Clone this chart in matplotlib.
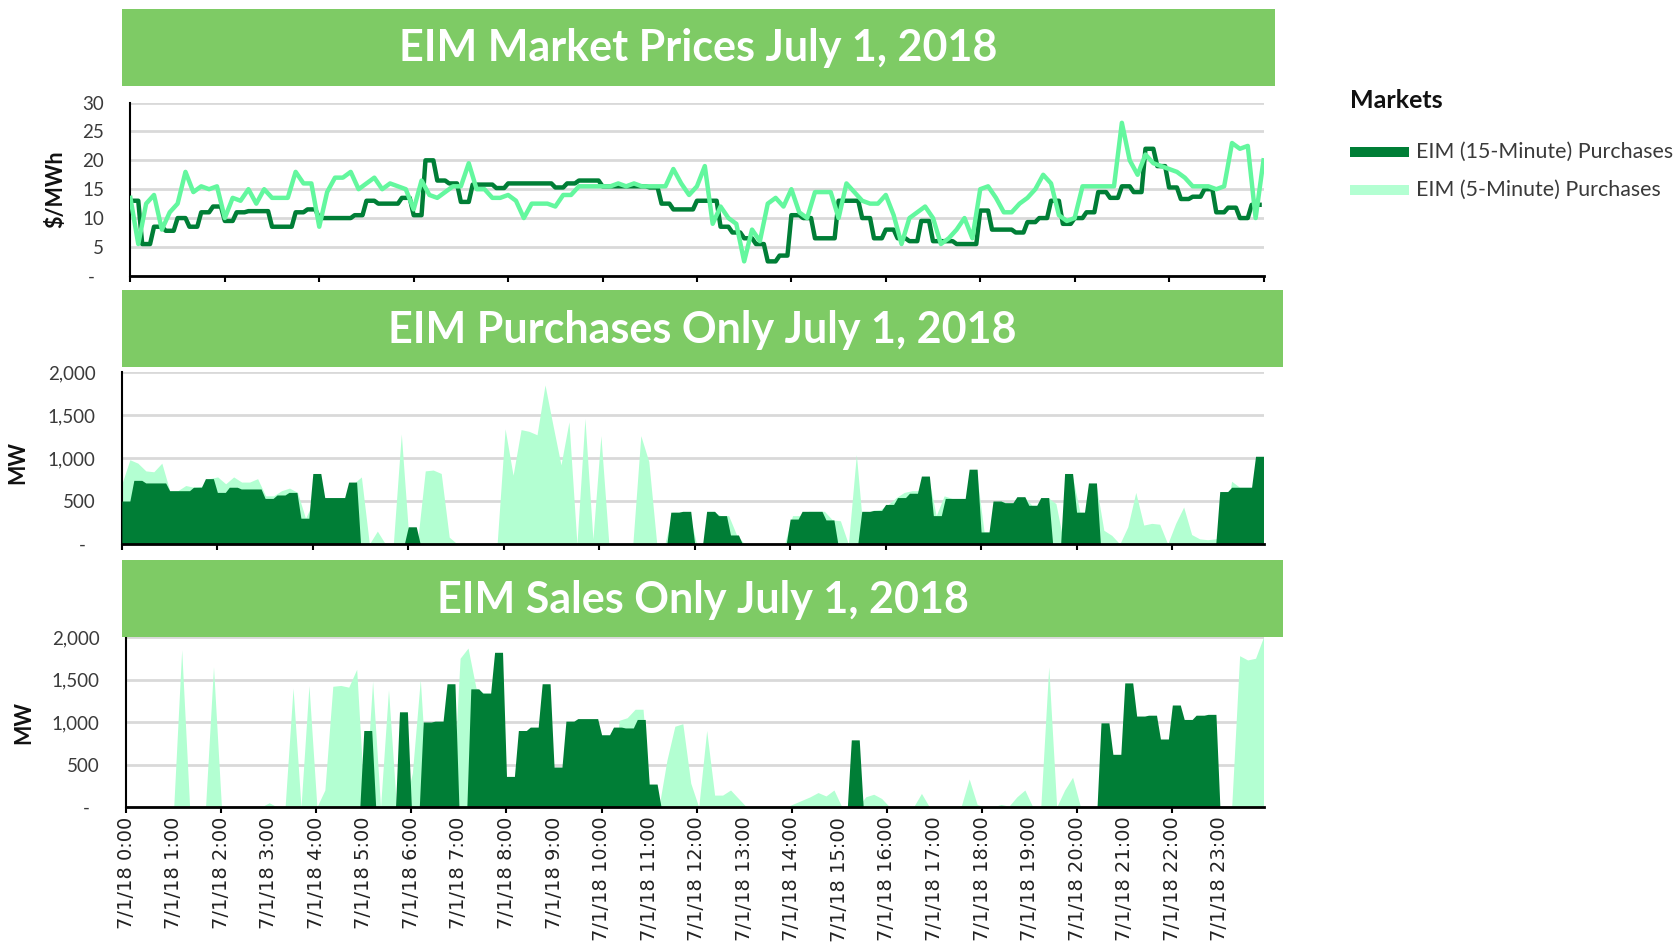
import numpy as np
import matplotlib

matplotlib.use("Agg")
import matplotlib.pyplot as plt
from matplotlib.patches import Rectangle
from matplotlib.lines import Line2D

# ---- data ----
# EIM prices, $/MWh: 15-minute market (one value per 15 min)
price_15min = [
    13, 5.5, 8.5, 7.8, 10, 8.5, 11, 12, 9.5, 11, 11.2, 11.2,
    8.5, 8.5, 11, 11.5, 10, 10, 10, 10.5, 13, 12.5, 12.5, 13.5,
    10.5, 20, 16.5, 16, 12.8, 15.8, 15.8, 15.2, 16, 16, 16, 16,
    15.3, 16, 16.5, 16.5, 15.5, 15.5, 15.5, 15.5, 15.3, 12.5, 11.5, 11.5,
    13, 13, 8.5, 7.5, 6.5, 5.5, 2.5, 3.5, 10.5, 10, 6.5, 6.5,
    13, 13, 10, 6.5, 8, 6.5, 6, 9.5, 6, 6, 5.5, 5.5,
    11.3, 8, 8, 7.5, 9.3, 10, 13, 9, 10, 11, 14.5, 13.5,
    15.5, 14.5, 22, 19, 15.3, 13.3, 13.7, 15, 11, 11.8, 10, 12.3,
]
# 5-minute market, sampled every 10 min (0:00 .. 24:00)
price_5min = [
    13.5, 5.5, 12.5, 14, 8, 11, 12.5, 18, 14.5, 15.5, 15, 15.5,
    10, 13.5, 13, 15, 12.5, 15, 13.5, 13.5, 13.5, 18, 16, 16,
    8.5, 14.5, 17, 17, 18, 15, 16, 17, 15, 16, 15.5, 15,
    11.5, 16.5, 14, 13.5, 14.5, 15.5, 15.5, 19.5, 15, 15, 13.5, 13.5,
    14, 13, 10, 12.5, 12.5, 12.5, 12, 14, 14, 15.5, 15.5, 15.5,
    15.5, 15.5, 16, 15.5, 16, 15.5, 15.5, 15.5, 15.5, 18.5, 16, 14,
    15.5, 19, 9, 12, 10, 9, 2.5, 8, 6, 12.5, 13.5, 12,
    15, 11, 10, 14.5, 14.5, 14.5, 10, 16, 14.5, 13, 12.5, 12.5,
    14, 10.5, 5.5, 10, 11, 12, 10, 5.5, 6.5, 8, 10, 6.5,
    15, 15.5, 13.5, 11, 11, 12.5, 13.5, 15, 17.5, 16, 10.5, 9.5,
    10, 15.5, 15.5, 15.5, 15.5, 15.5, 26.5, 20, 17.5, 21, 19.5, 19,
    18.5, 18, 17, 15.5, 15.5, 15.5, 15, 15.5, 23, 22, 22.5, 10,
    20,
]

# EIM purchases, MW
purch_15min = [
    500, 740, 710, 710, 620, 620, 660, 760, 600, 660, 640, 640,
    530, 570, 600, 300, 820, 540, 540, 720, 0, 0, 0, 0,
    200, 0, 0, 0, 0, 0, 0, 0, 0, 0, 0, 0,
    0, 0, 0, 0, 0, 0, 0, 0, 0, 0, 370, 380,
    0, 380, 330, 105, 0, 0, 0, 0, 290, 380, 380, 280,
    0, 0, 380, 390, 460, 540, 590, 790, 330, 530, 530, 870,
    140, 500, 480, 550, 450, 540, 0, 820, 370, 710, 0, 0,
    0, 0, 0, 0, 0, 0, 0, 0, 610, 660, 660, 1020,
]
purch_5min = [
    700, 980, 940, 850, 840, 940, 620, 620, 680, 660, 670, 760,
    780, 700, 780, 720, 720, 760, 560, 560, 620, 650, 600, 300,
    500, 540, 540, 540, 540, 700, 780, 0, 150, 0, 0, 1280,
    0, 0, 850, 860, 820, 80, 0, 0, 0, 0, 0, 0,
    1340, 800, 1330, 1310, 1270, 1850, 1380, 920, 1420, 0, 1460, 60,
    1260, 0, 0, 0, 0, 1260, 960, 0, 0, 370, 370, 370,
    0, 0, 380, 330, 330, 105, 0, 0, 0, 0, 0, 0,
    330, 330, 380, 380, 380, 280, 270, 0, 1040, 0, 390, 400,
    460, 540, 600, 620, 620, 790, 330, 560, 530, 530, 530, 870,
    140, 140, 500, 480, 480, 550, 450, 450, 540, 470, 0, 820,
    370, 370, 710, 160, 100, 0, 200, 600, 220, 240, 230, 0,
    240, 430, 110, 60, 50, 60, 100, 730, 660, 660, 660, 1020,
]

# EIM sales, MW
sales_15min = [
    0, 0, 0, 0, 0, 0, 0, 0, 0, 0, 0, 0,
    0, 0, 0, 0, 0, 0, 0, 0, 900, 0, 0, 1120,
    0, 1000, 1010, 1450, 0, 1390, 1340, 1820, 360, 900, 940, 1450,
    470, 1010, 1040, 1040, 850, 940, 930, 1030, 270, 0, 0, 0,
    0, 0, 0, 0, 0, 0, 0, 0, 0, 0, 0, 0,
    0, 790, 0, 0, 0, 0, 0, 0, 0, 0, 0, 0,
    0, 0, 0, 0, 0, 0, 0, 0, 0, 0, 990, 620,
    1460, 1070, 1080, 800, 1200, 1030, 1080, 1090, 0, 0, 0, 0,
]
sales_5min = [
    0, 0, 0, 0, 0, 0, 0, 1850, 0, 0, 0, 1650,
    0, 0, 0, 0, 0, 0, 50, 0, 0, 1400, 0, 1430,
    0, 200, 1420, 1430, 1410, 1620, 0, 1480, 0, 1380, 0, 0,
    400, 1500, 0, 0, 0, 0, 1750, 1870, 1400, 1340, 1340, 0,
    0, 0, 0, 0, 0, 0, 0, 0, 0, 0, 0, 0,
    0, 0, 1020, 1050, 1150, 1150, 0, 0, 550, 950, 980, 280,
    0, 900, 140, 140, 200, 100, 0, 0, 0, 0, 0, 0,
    40, 80, 120, 170, 130, 200, 0, 0, 0, 120, 150, 100,
    0, 0, 0, 0, 160, 0, 0, 0, 10, 10, 330, 30,
    0, 0, 30, 10, 120, 200, 0, 0, 1650, 0, 200, 350,
    0, 0, 0, 0, 0, 0, 0, 0, 0, 0, 0, 0,
    0, 0, 0, 0, 0, 0, 0, 0, 1780, 1730, 1750, 2000,
]

hours = list(range(24))
hour_labels = [f"7/1/18 {h}:00" for h in hours]
price_ticks = [0, 5, 10, 15, 20, 25, 30]
price_labels = ["-  ", "5", "10", "15", "20", "25", "30"]
mw_ticks = [0, 500, 1000, 1500, 2000]
mw_labels = ["-  ", "500", "1,000", "1,500", "2,000"]

titles = [
    "EIM Market Prices July 1, 2018",
    "EIM Purchases Only July 1, 2018",
    "EIM Sales Only July 1, 2018",
]
series_names = ["EIM (15-Minute) Purchases", "EIM (5-Minute) Purchases"]

# ---- style ----
DARK = "#007E36"
LIGHT_LINE = "#63F79E"
LIGHT_AREA = "#B3FFD2"
BANNER = "#7ECB65"
GRID = "#D9D9D9"
TXT = "#3A3A3A"
FONT = "Lato"

W, H = 1676, 943


def fx(px):
    return px / W


def fy(py):
    return 1 - py / H


def box(x0, y0, x1, y1):
    return [fx(x0), fy(y1), fx(x1) - fx(x0), fy(y0) - fy(y1)]


fig = plt.figure(figsize=(W / 100, H / 100), dpi=100)
fig.patch.set_facecolor("white")

# banners
banners = [(122, 8.5, 1275, 85.5), (122, 290, 1283, 367), (122, 560, 1283, 637)]
for (x0, y0, x1, y1), title in zip(banners, titles):
    fig.add_artist(Rectangle((fx(x0), fy(y1)), fx(x1) - fx(x0), fy(y0) - fy(y1),
                             transform=fig.transFigure, color=BANNER, lw=0))
    fig.text(fx((x0 + x1) / 2), fy((y0 + y1) / 2 + 1.5), title, color="white",
             fontsize=31, fontweight="bold", family=FONT, ha="center", va="center")

t5 = np.arange(288) / 12.0

ax1 = fig.add_axes(box(130.4, 102.6, 1263.5, 275.8))
ax2 = fig.add_axes(box(121.9, 372.0, 1263.5, 544.0))
ax3 = fig.add_axes(box(126.0, 637.0, 1263.5, 807.0))

# panel 1: prices
ax1.plot(t5, np.repeat(price_15min, 3), color=DARK, lw=3.2, zorder=3)
ax1.plot(np.arange(len(price_5min)) / 6.0, price_5min, color=LIGHT_LINE, lw=3.2, zorder=4)
ax1.set_xlim(0, 24)
ax1.set_ylim(0, 30)
ax1.set_yticks(price_ticks)
ax1.set_yticklabels(price_labels)
ax1.set_xticks(range(0, 25, 2))
ax1.set_xticklabels([])

# panels 2 and 3: areas
t10 = np.linspace(0, 287 / 12.0, 144)
for ax, dark, light in [(ax2, purch_15min, purch_5min), (ax3, sales_15min, sales_5min)]:
    ax.fill_between(t10, 0, light, color=LIGHT_AREA, lw=0, zorder=2)
    ax.fill_between(t5, 0, np.repeat(dark, 3), color=DARK, lw=0, zorder=3)
    ax.set_xlim(0, 287 / 12.0)
    ax.set_ylim(0, 2000)
    ax.set_yticks(mw_ticks)
    ax.set_yticklabels(mw_labels)
    ax.set_xticks(range(0, 24, 2))

ax2.set_xticklabels([])
ax3.set_xticklabels([hour_labels[h] for h in range(0, 24, 2)])
ax3.set_xticks(range(1, 24, 2), minor=True)
ax3.set_xticklabels([hour_labels[h] for h in range(1, 24, 2)], minor=True)

for ax in (ax1, ax2, ax3):
    ax.set_facecolor("white")
    ax.grid(axis="y", color=GRID, lw=2.0, zorder=0)
    ax.set_axisbelow(True)
    for s in ("top", "right"):
        ax.spines[s].set_visible(False)
    ax.spines["left"].set_linewidth(1.5)
    ax.spines["bottom"].set_linewidth(2.0)
    ax.spines["bottom"].set_zorder(5)
    ax.tick_params(axis="y", length=0, pad=19, labelsize=13.5, labelcolor=TXT)
    ax.tick_params(axis="x", which="major", length=4.5, width=1.5, direction="out")
    for lab in ax.get_yticklabels():
        lab.set_family(FONT)

ax3.tick_params(axis="x", which="major", pad=2.5, labelsize=14, labelrotation=90, labelcolor="#222222")
ax3.tick_params(axis="x", which="minor", length=0, pad=7.0, labelsize=14, labelrotation=90, labelcolor="#222222")
for lab in ax3.get_xticklabels(which="both"):
    lab.set_family("DejaVu Sans")
    lab.set_va("top")

# y axis titles
fig.text(fx(55.6), fy(189), "$/MWh", rotation=90, ha="center", va="center",
         fontsize=15.5, fontweight="bold", family=FONT, color="#111111")
fig.text(fx(18), fy(462), "MW", rotation=90, ha="center", va="center",
         fontsize=15.5, fontweight="bold", family=FONT, color="#111111")
fig.text(fx(23.5), fy(722), "MW", rotation=90, ha="center", va="center",
         fontsize=15.5, fontweight="bold", family=FONT, color="#111111")

# legend
fig.text(fx(1350), fy(100), "Markets", fontsize=18, fontweight="bold", family=FONT,
         ha="left", va="center", color="#111111")
for yy, col, name in [(152, DARK, series_names[0]), (190, LIGHT_AREA, series_names[1])]:
    fig.add_artist(Line2D([fx(1350), fx(1409)], [fy(yy), fy(yy)], transform=fig.transFigure,
                          color=col, lw=7.2, solid_capstyle="butt"))
    fig.text(fx(1416), fy(yy), name, fontsize=15.4, family=FONT, ha="left", va="center", color=TXT)

fig.savefig("out.png", dpi=100, facecolor="white")
plt.close(fig)
